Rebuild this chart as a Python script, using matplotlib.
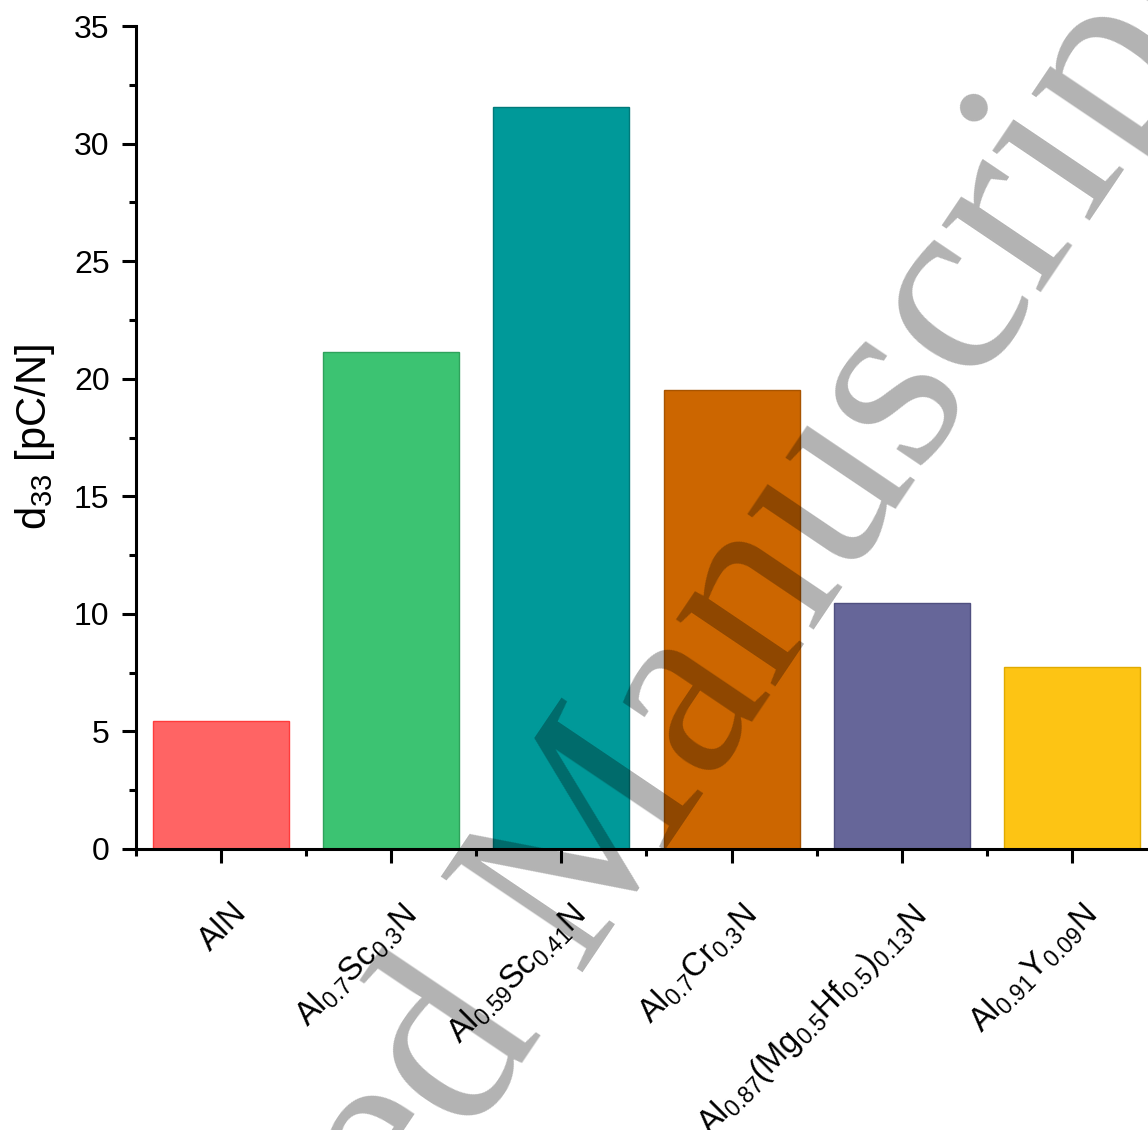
import matplotlib
matplotlib.use("Agg")
import matplotlib.pyplot as plt
import matplotlib.transforms as mtransforms
from matplotlib.ticker import MultipleLocator, FixedLocator

plt.rcParams['font.family'] = ['Liberation Sans', 'DejaVu Sans']
plt.rcParams['mathtext.fontset'] = 'custom'
plt.rcParams['mathtext.rm'] = 'Liberation Sans'
plt.rcParams['mathtext.it'] = 'Liberation Sans:italic'
plt.rcParams['mathtext.bf'] = 'Liberation Sans:bold'

# ---- data ----
categories = [
    r'$\mathrm{AlN}$',
    r'$\mathrm{Al_{0.7}Sc_{0.3}N}$',
    r'$\mathrm{Al_{0.59}Sc_{0.41}N}$',
    r'$\mathrm{Al_{0.7}Cr_{0.3}N}$',
    r'$\mathrm{Al_{0.87}(Mg_{0.5}Hf_{0.5})_{0.13}N}$',
    r'$\mathrm{Al_{0.91}Y_{0.09}N}$',
]
d33 = [5.45, 21.15, 31.55, 19.5, 10.45, 7.75]
fill_colors = ['#FF6464', '#3CC372', '#009999', '#CC6600', '#666699', '#FDC414']
edge_colors = ['#FF3C3C', '#2FA25C', '#007A7A', '#A85400', '#505080', '#E0AA00']
ylabel = r'$\mathrm{d_{33}}$ [pC/N]'
watermark = 'Accepted Manuscript'

W, H = 1148, 1130
fig = plt.figure(figsize=(W / 100, H / 100), dpi=100)
ax = fig.add_axes([136 / W, 1 - 849 / H, (1157 - 136) / W, (849 - 26) / H])

x = list(range(len(categories)))
ax.bar(x, d33, width=0.8, color=fill_colors, edgecolor=edge_colors, linewidth=1.0, zorder=2)

ax.set_xlim(-0.5, len(categories) - 0.5)
ax.set_ylim(0, 35)

for s in ['top', 'right']:
    ax.spines[s].set_visible(False)
for s in ['left', 'bottom']:
    ax.spines[s].set_linewidth(2.2)

ax.yaxis.set_major_locator(MultipleLocator(5))
ax.yaxis.set_minor_locator(MultipleLocator(2.5))
ax.xaxis.set_major_locator(FixedLocator(x))
ax.xaxis.set_minor_locator(FixedLocator([i - 0.5 for i in range(len(categories) + 1)]))

ax.tick_params(which='major', direction='out', length=10, width=2.2, labelsize=23, pad=9)
ax.tick_params(which='minor', direction='out', length=5, width=2.2)
ax.tick_params(axis='x', which='major', labelsize=23.5, pad=26)

ax.set_xticklabels(categories, rotation=45, ha='right', va='top', rotation_mode='anchor')
offset = mtransforms.ScaledTranslation(0.08, 0, fig.dpi_scale_trans)
for lbl in ax.get_xticklabels():
    lbl.set_transform(lbl.get_transform() + offset)

ax.set_ylabel(ylabel, fontsize=30)
ax.yaxis.set_label_coords(-0.077, 0.5)

# watermark (baseline start lies outside the canvas, bottom-left)
fig.text(-5 / W, 1 - 1845 / H, watermark, family=['Liberation Serif', 'DejaVu Serif'],
         fontsize=187, color='black', alpha=0.3, rotation=56,
         ha='left', va='baseline', rotation_mode='anchor', zorder=10)

fig.savefig('out.png', dpi=100)
